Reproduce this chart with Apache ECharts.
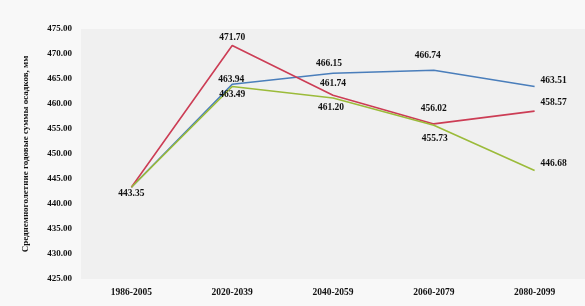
<!DOCTYPE html>
<html><head><meta charset="utf-8">
<script src="https://cdn.jsdelivr.net/npm/echarts@6/dist/echarts.min.js"></script>
<style>html,body{margin:0;padding:0;background:#f8f8f8}#c{width:585px;height:306px}</style>
</head><body><div id="c"></div>
<script>
const categories = ['1986-2005','2020-2039','2040-2059','2060-2079','2080-2099'];
const blueValues = [443.35, 463.94, 466.15, 466.74, 463.51];
const redValues = [443.35, 471.70, 461.74, 456.02, 458.57];
const greenValues = [443.35, 463.49, 461.20, 455.73, 446.68];
// label offsets from each point (dx, dy), null = no label
const blueLabelOffset = [[0,6],[-1,-5],[-4,-10],[-6,-15],[19,-5.5]];
const redLabelOffset = [null,[0,-7.5],[0,-12],[0,-15],[19,-9]];
const greenLabelOffset = [null,[0,7.5],[-2,10],[1,13],[19,-7.5]];
const yTitle = 'Среднемноголетние годовые суммы осадков, мм';

const font = {fontFamily:'Liberation Serif', fontWeight:'bold', fontSize:9.5, color:'#111'};
function mk(vals, offs, color){
  return {
    type:'line', symbol:'circle', symbolSize:0.1, showSymbol:true, smooth:false,
    lineStyle:{color:color, width:1.6},
    itemStyle:{color:color},
    data: vals.map((v,i)=>({value:v, label: offs[i] ? {show:true, position:'inside', offset:offs[i]} : {show:false}})),
    label:Object.assign({show:true, formatter:p=>p.value.toFixed(2)}, font)
  };
}
const chart = echarts.init(document.getElementById('c'));
chart.setOption({
  animation:false,
  grid:{left:81, top:29, width:510, bottom:27, show:true, backgroundColor:'#f0f0f0', borderWidth:0},
  xAxis:{type:'category', data:categories, boundaryGap:true,
    axisLine:{show:false}, axisTick:{show:false},
    axisLabel:Object.assign({margin:9}, font, {fontSize:9.5})},
  yAxis:{type:'value', min:425, max:475, interval:5,
    name:yTitle, nameLocation:'middle', nameGap:51,
    nameTextStyle:Object.assign({}, font, {fontSize:9}),
    axisLine:{show:false}, axisTick:{show:false}, splitLine:{show:false},
    axisLabel:Object.assign({formatter:v=>v.toFixed(2), margin:9}, font, {fontSize:9})},
  series:[
    mk(blueValues, blueLabelOffset, '#4a7ebb'),
    mk(redValues, redLabelOffset, '#cc3d55'),
    mk(greenValues, greenLabelOffset, '#9bbb3a')
  ]
});
</script></body></html>
